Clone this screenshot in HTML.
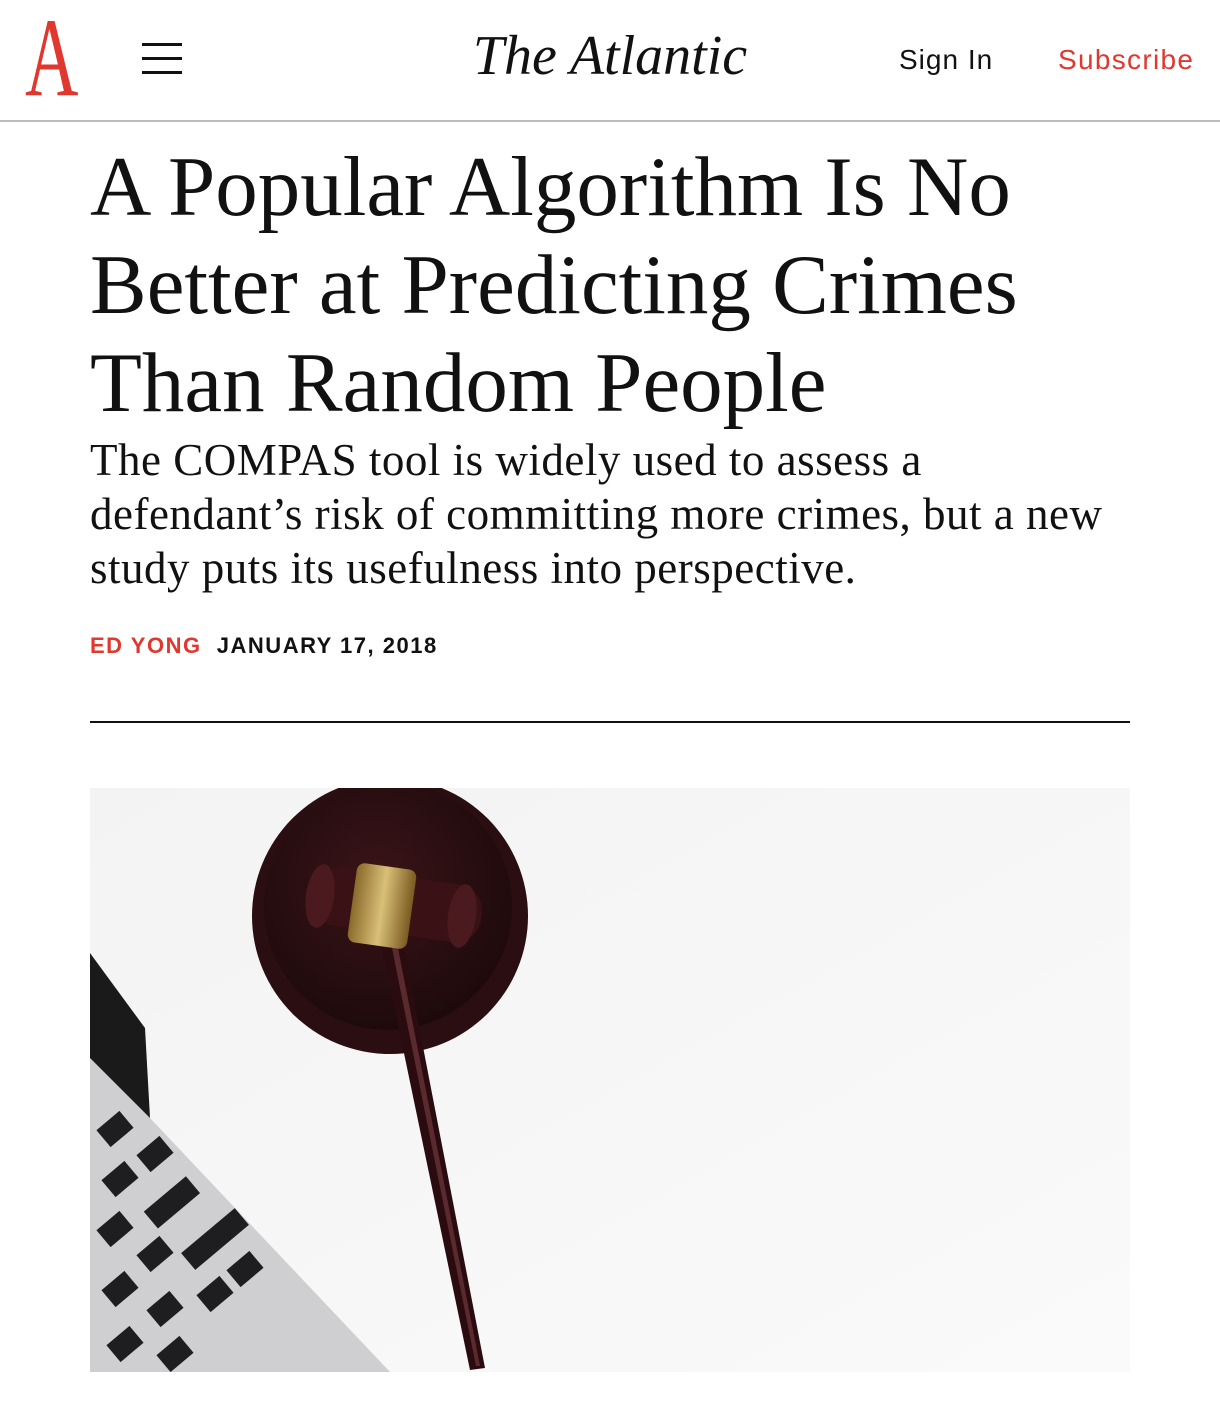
<!DOCTYPE html>
<html><head><meta charset="utf-8">
<style>
html,body{margin:0;padding:0;width:1220px;height:1402px;background:#fff;overflow:hidden;position:relative}
*{box-sizing:border-box}
.abs{position:absolute}
.serif{font-family:"Liberation Serif",serif}
.sans{font-family:"Liberation Sans",sans-serif}
</style></head><body>
<header class="abs" style="left:0;top:0;width:1220px;height:122px;border-bottom:2px solid #bdbdbd">
  <div class="abs serif" style="left:25px;top:2px;font-size:112px;line-height:112px;color:#e0382f;transform:scaleX(0.66);transform-origin:left top">A</div>
  <div class="abs" style="left:142px;top:43px;width:40px;height:32px">
    <div class="abs" style="left:0;top:0;width:40px;height:3px;background:#111"></div>
    <div class="abs" style="left:0;top:14px;width:40px;height:3px;background:#111"></div>
    <div class="abs" style="left:0;top:28px;width:40px;height:3px;background:#111"></div>
  </div>
  <div class="abs serif" style="left:0;width:1220px;top:26px;text-align:center;font-size:56px;line-height:60px;font-style:italic;color:#111">The Atlantic</div>
  <div class="abs sans" style="left:899px;top:44px;font-size:28px;line-height:32px;color:#111;letter-spacing:1px">Sign In</div>
  <div class="abs sans" style="left:1058px;top:44px;font-size:28px;line-height:32px;color:#e0382f;letter-spacing:1.3px">Subscribe</div>
</header>
<h1 class="abs serif" style="margin:0;left:90px;top:138px;width:1080px;font-weight:normal;font-size:85px;line-height:98px;color:#111">A Popular Algorithm Is No Better at Predicting Crimes Than Random People</h1>
<p class="abs serif" style="margin:0;left:90px;top:433px;width:1100px;font-size:45px;line-height:54px;color:#111;white-space:nowrap;letter-spacing:0.5px">The COMPAS tool is widely used to assess a<br>defendant’s risk of committing more crimes, but a new<br>study puts its usefulness into perspective.</p>
<div class="abs sans" style="left:90px;top:633px;font-size:22px;line-height:26px;font-weight:bold;letter-spacing:1.5px;white-space:nowrap">
  <span style="color:#e0382f">ED YONG</span>&nbsp;
  <span style="color:#111">JANUARY 17, 2018</span>
</div>
<div class="abs" style="left:90px;top:721px;width:1040px;height:2px;background:#111"></div>
<svg class="abs" style="left:90px;top:788px" width="1040" height="584" viewBox="0 0 1040 584">
  <defs>
    <linearGradient id="bg" x1="0" y1="0" x2="1" y2="1"><stop offset="0" stop-color="#f3f3f3"/><stop offset="1" stop-color="#fafafa"/></linearGradient>
    <radialGradient id="blk" cx="0.45" cy="0.4" r="0.6"><stop offset="0" stop-color="#3a1418"/><stop offset="1" stop-color="#1e0a0c"/></radialGradient>
    <linearGradient id="gold" x1="0" y1="0" x2="1" y2="0"><stop offset="0" stop-color="#8a6a2a"/><stop offset="0.5" stop-color="#d9bf78"/><stop offset="1" stop-color="#7a5a20"/></linearGradient>
  </defs>
  <rect width="1040" height="584" fill="url(#bg)"/>
  <g>
    <polygon points="0,270 60,330 300,584 0,584" fill="#cfcfd1"/>
    <polygon points="0,165 55,240 60,330 0,270" fill="#1a1a1a"/>
    <g fill="#1e1e20">
      <rect x="10" y="330" width="30" height="22" transform="rotate(-40 25 341)"/>
      <rect x="50" y="355" width="30" height="22" transform="rotate(-40 65 366)"/>
      <rect x="15" y="380" width="30" height="22" transform="rotate(-40 30 391)"/>
      <rect x="55" y="405" width="55" height="22" transform="rotate(-40 80 416)"/>
      <rect x="10" y="430" width="30" height="22" transform="rotate(-40 25 441)"/>
      <rect x="50" y="455" width="30" height="22" transform="rotate(-40 65 466)"/>
      <rect x="90" y="440" width="70" height="22" transform="rotate(-40 125 451)"/>
      <rect x="15" y="490" width="30" height="22" transform="rotate(-40 30 501)"/>
      <rect x="60" y="510" width="30" height="22" transform="rotate(-40 75 521)"/>
      <rect x="110" y="495" width="30" height="22" transform="rotate(-40 125 506)"/>
      <rect x="140" y="470" width="30" height="22" transform="rotate(-40 155 481)"/>
      <rect x="20" y="545" width="30" height="22" transform="rotate(-40 35 556)"/>
      <rect x="70" y="555" width="30" height="22" transform="rotate(-40 85 566)"/>
    </g>
  </g>
  <g>
    <circle cx="300" cy="128" r="138" fill="#2a0e11"/>
    <circle cx="298" cy="118" r="124" fill="url(#blk)"/>
    <polygon points="290,150 312,150 395,580 380,582" fill="#2a0c10"/>
    <polygon points="300,150 306,150 390,578 386,578" fill="#5a2a2e"/>
    <rect x="222" y="88" width="170" height="58" rx="26" fill="#3a1216" transform="rotate(8 307 117)"/>
    <rect x="262" y="78" width="60" height="80" rx="8" fill="url(#gold)" transform="rotate(8 292 118)"/>
    <ellipse cx="230" cy="108" rx="14" ry="32" fill="#4a1a1e" transform="rotate(8 230 108)"/>
    <ellipse cx="372" cy="128" rx="14" ry="32" fill="#4a1a1e" transform="rotate(8 372 128)"/>
  </g>
</svg>
</body></html>
